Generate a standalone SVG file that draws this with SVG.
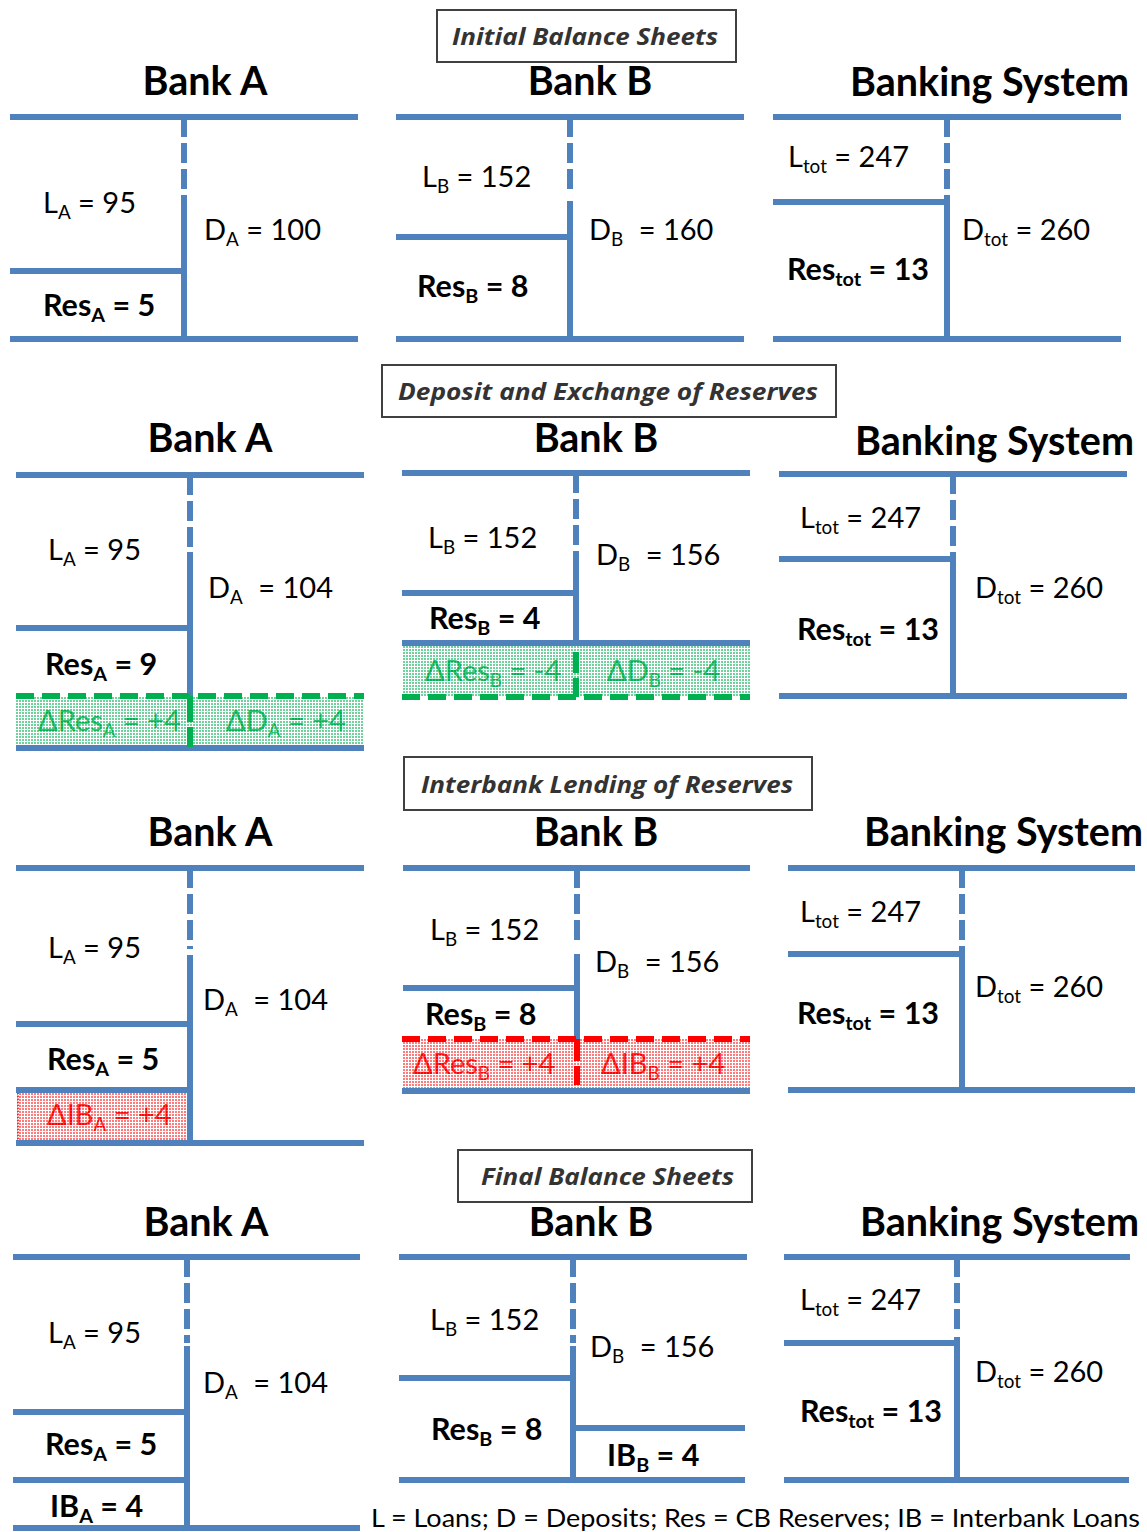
<svg xmlns="http://www.w3.org/2000/svg" width="1147" height="1532" viewBox="0 0 1147 1532">
<style>
.ln{stroke:#4F81BD;stroke-width:6;fill:none}
.dsh{stroke-dasharray:20 6}
.t{font-family:Lato,"Liberation Sans",sans-serif;font-size:29px;fill:#000}
.b{font-weight:bold;font-size:30.5px}
.h{font-family:Lato,"Liberation Sans",sans-serif;font-size:39.5px;font-weight:bold;fill:#000}
.ttl{font-family:"Open Sans","Liberation Sans",sans-serif;font-size:24px;font-weight:bold;font-style:italic;fill:#333}
.box{fill:#fff;stroke:#404040;stroke-width:2}
.sub{font-size:65%}
.g{fill:#00B050}
.r{fill:#FF0000}
.gl{stroke:#00B050;stroke-width:6;fill:none}
.rl{stroke:#FF0000;stroke-width:6;fill:none}
.gd{stroke-dasharray:18 8}
.ov{opacity:0.2}
</style>
<defs>
<pattern id="wgrid" width="3" height="3" patternUnits="userSpaceOnUse">
<rect x="0" y="0" width="3" height="1" fill="#fff"/>
<rect x="0" y="0" width="1" height="3" fill="#fff"/>
</pattern>
</defs>

<!-- Section 1 -->
<g id="title1"><rect class="box" x="437" y="10" width="299" height="52"/><text class="ttl" x="452" y="45" textLength="266" lengthAdjust="spacingAndGlyphs">Initial Balance Sheets</text></g>

<g id="s1-bankA">
<text class="h" x="205" y="95" text-anchor="middle">Bank A</text>
<path class="ln" d="M10 117H358M10 271H184M10 339H358M184 195V339"/>
<path class="ln dsh" d="M184 117V189"/>
<text class="t" x="43" y="213">L<tspan class="sub" dy="6">A</tspan><tspan dy="-6"> = 95</tspan></text>
<text class="t" x="204" y="240">D<tspan class="sub" dy="6">A</tspan><tspan dy="-6"> = 100</tspan></text>
<text class="t b" x="43" y="316">Res<tspan class="sub" dy="6">A</tspan><tspan dy="-6"> = 5</tspan></text>
</g>

<g id="s1-bankB">
<text class="h" x="590" y="95" text-anchor="middle">Bank B</text>
<path class="ln" d="M396 117H744M396 237H570M396 339H744M570 201V339"/>
<path class="ln dsh" d="M570 117V189"/>
<text class="t" x="422" y="187">L<tspan class="sub" dy="6">B</tspan><tspan dy="-6"> = 152</tspan></text>
<text class="t" x="589" y="240">D<tspan class="sub" dy="6">B</tspan><tspan dy="-6" dx="8"> = 160</tspan></text>
<text class="t b" x="417" y="297">Res<tspan class="sub" dy="6">B</tspan><tspan dy="-6"> = 8</tspan></text>
</g>

<g id="s1-system">
<text class="h" x="850" y="96">Banking System</text>
<path class="ln" d="M773 117H1121M773 202H947M773 339H1121M947 195V339"/>
<path class="ln dsh" d="M947 117V189"/>
<text class="t" x="788" y="167">L<tspan class="sub" dy="6">tot</tspan><tspan dy="-6"> = 247</tspan></text>
<text class="t" x="962" y="240">D<tspan class="sub" dy="6">tot</tspan><tspan dy="-6"> = 260</tspan></text>
<text class="t b" x="787" y="280">Res<tspan class="sub" dy="6">tot</tspan><tspan dy="-6"> = 13</tspan></text>
</g>

<!-- Section 2 -->
<g id="title2"><rect class="box" x="382" y="365" width="454" height="52"/><text class="ttl" x="398" y="400" textLength="420" lengthAdjust="spacingAndGlyphs">Deposit and Exchange of Reserves</text></g>

<g id="s2-bankA">
<text class="h" x="210" y="452" text-anchor="middle">Bank A</text>
<rect x="16" y="696" width="348" height="52" fill="#6fd19c"/>
<rect x="16" y="696" width="348" height="52" fill="url(#wgrid)"/>
<text class="t g" x="38" y="731">ΔRes<tspan class="sub" dy="6">A</tspan><tspan dy="-6"> = +4</tspan></text>
<text class="t g" x="226" y="731">ΔD<tspan class="sub" dy="6">A</tspan><tspan dy="-6"> = +4</tspan></text>
<rect class="ov" x="16" y="696" width="348" height="52" fill="url(#wgrid)"/>
<path class="ln" d="M16 475H364M16 628H190M16 748H364M190 552V696"/>
<path class="ln dsh" d="M190 475V547"/>
<path class="gl gd" d="M16 696H364"/>
<path class="gl" d="M190 696V722M190 727V747"/>
<text class="t" x="48" y="560">L<tspan class="sub" dy="6">A</tspan><tspan dy="-6"> = 95</tspan></text>
<text class="t" x="208" y="598">D<tspan class="sub" dy="6">A</tspan><tspan dy="-6" dx="8"> = 104</tspan></text>
<text class="t b" x="45" y="675">Res<tspan class="sub" dy="6">A</tspan><tspan dy="-6"> = 9</tspan></text>
</g>

<g id="s2-bankB">
<text class="h" x="596" y="452" text-anchor="middle">Bank B</text>
<rect x="402" y="643" width="348" height="54" fill="#6fd19c"/>
<rect x="402" y="643" width="348" height="54" fill="url(#wgrid)"/>
<text class="t g" x="425" y="681">ΔRes<tspan class="sub" dy="6">B</tspan><tspan dy="-6"> = -4</tspan></text>
<text class="t g" x="607" y="681">ΔD<tspan class="sub" dy="6">B</tspan><tspan dy="-6"> = -4</tspan></text>
<rect class="ov" x="402" y="643" width="348" height="54" fill="url(#wgrid)"/>
<path class="ln" d="M402 473H750M402 593H576M402 643H750M576 551V643"/>
<path class="ln dsh" d="M576 473V545"/>
<path class="gl gd" d="M402 697H750"/>
<path class="gl" d="M576 652V673M576 678V697"/>
<text class="t" x="428" y="548">L<tspan class="sub" dy="6">B</tspan><tspan dy="-6"> = 152</tspan></text>
<text class="t" x="596" y="565">D<tspan class="sub" dy="6">B</tspan><tspan dy="-6" dx="8"> = 156</tspan></text>
<text class="t b" x="429" y="629">Res<tspan class="sub" dy="6">B</tspan><tspan dy="-6"> = 4</tspan></text>
</g>

<g id="s2-system">
<text class="h" x="855" y="455">Banking System</text>
<path class="ln" d="M779 474H1127M779 559H953M779 696H1127M953 552V696"/>
<path class="ln dsh" d="M953 474V546"/>
<text class="t" x="800" y="528">L<tspan class="sub" dy="6">tot</tspan><tspan dy="-6"> = 247</tspan></text>
<text class="t" x="975" y="598">D<tspan class="sub" dy="6">tot</tspan><tspan dy="-6"> = 260</tspan></text>
<text class="t b" x="797" y="640">Res<tspan class="sub" dy="6">tot</tspan><tspan dy="-6"> = 13</tspan></text>
</g>

<!-- Section 3 -->
<g id="title3"><rect class="box" x="404" y="757" width="408" height="53"/><text class="ttl" x="421" y="793" textLength="372" lengthAdjust="spacingAndGlyphs">Interbank Lending of Reserves</text></g>

<g id="s3-bankA">
<text class="h" x="210" y="846" text-anchor="middle">Bank A</text>
<rect x="17" y="1090" width="173" height="53" fill="#ff7a7a"/>
<rect x="17" y="1090" width="173" height="53" fill="url(#wgrid)"/>
<text class="t r" x="47" y="1125">ΔIB<tspan class="sub" dy="6">A</tspan><tspan dy="-6"> = +4</tspan></text>
<rect class="ov" x="17" y="1090" width="173" height="53" fill="url(#wgrid)"/>
<rect x="18" y="1091" width="171" height="51" fill="none" stroke="#FF0000" stroke-width="1.5" stroke-dasharray="1.5 1.5"/>
<path class="ln" d="M16 868H364M16 1024H190M16 1090H190M16 1143H364M190 955V1143"/>
<path class="ln dsh" d="M190 868V949"/>
<text class="t" x="48" y="958">L<tspan class="sub" dy="6">A</tspan><tspan dy="-6"> = 95</tspan></text>
<text class="t" x="203" y="1010">D<tspan class="sub" dy="6">A</tspan><tspan dy="-6" dx="8"> = 104</tspan></text>
<text class="t b" x="47" y="1070">Res<tspan class="sub" dy="6">A</tspan><tspan dy="-6"> = 5</tspan></text>
</g>

<g id="s3-bankB">
<text class="h" x="596" y="846" text-anchor="middle">Bank B</text>
<rect x="402" y="1039" width="348" height="52" fill="#ff7a7a"/>
<rect x="402" y="1039" width="348" height="52" fill="url(#wgrid)"/>
<text class="t r" x="413" y="1074">ΔRes<tspan class="sub" dy="6">B</tspan><tspan dy="-6"> = +4</tspan></text>
<text class="t r" x="601" y="1074">ΔIB<tspan class="sub" dy="6">B</tspan><tspan dy="-6"> = +4</tspan></text>
<rect class="ov" x="402" y="1039" width="348" height="52" fill="url(#wgrid)"/>
<path class="ln" d="M403 868H750M403 988H577M402 1091H750M577 954V1039"/>
<path class="ln dsh" d="M577 868V940"/>
<path class="rl gd" d="M402 1039H750"/>
<path class="rl" d="M577 1039V1061M577 1066V1085"/>
<text class="t" x="430" y="940">L<tspan class="sub" dy="6">B</tspan><tspan dy="-6"> = 152</tspan></text>
<text class="t" x="595" y="972">D<tspan class="sub" dy="6">B</tspan><tspan dy="-6" dx="8"> = 156</tspan></text>
<text class="t b" x="425" y="1025">Res<tspan class="sub" dy="6">B</tspan><tspan dy="-6"> = 8</tspan></text>
</g>

<g id="s3-system">
<text class="h" x="864" y="846">Banking System</text>
<path class="ln" d="M788 868H1135M788 954H962M788 1090H1135M962 946V1090"/>
<path class="ln dsh" d="M962 868V940"/>
<text class="t" x="800" y="922">L<tspan class="sub" dy="6">tot</tspan><tspan dy="-6"> = 247</tspan></text>
<text class="t" x="975" y="997">D<tspan class="sub" dy="6">tot</tspan><tspan dy="-6"> = 260</tspan></text>
<text class="t b" x="797" y="1024">Res<tspan class="sub" dy="6">tot</tspan><tspan dy="-6"> = 13</tspan></text>
</g>

<!-- Section 4 -->
<g id="title4"><rect class="box" x="458" y="1150" width="294" height="52"/><text class="ttl" x="481" y="1185" textLength="253" lengthAdjust="spacingAndGlyphs">Final Balance Sheets</text></g>

<g id="s4-bankA">
<text class="h" x="206" y="1236" text-anchor="middle">Bank A</text>
<path class="ln" d="M13 1257H360M13 1412H187M13 1480H187M13 1528H360M187 1346V1528"/>
<path class="ln dsh" d="M187 1257V1343"/>
<text class="t" x="48" y="1343">L<tspan class="sub" dy="6">A</tspan><tspan dy="-6"> = 95</tspan></text>
<text class="t" x="203" y="1393">D<tspan class="sub" dy="6">A</tspan><tspan dy="-6" dx="8"> = 104</tspan></text>
<text class="t b" x="45" y="1455">Res<tspan class="sub" dy="6">A</tspan><tspan dy="-6"> = 5</tspan></text>
<text class="t b" x="50" y="1517">IB<tspan class="sub" dy="6">A</tspan><tspan dy="-6"> = 4</tspan></text>
</g>

<g id="s4-bankB">
<text class="h" x="591" y="1236" text-anchor="middle">Bank B</text>
<path class="ln" d="M399 1257H747M399 1378H573M573 1428H745M399 1480H745M573 1346V1480"/>
<path class="ln dsh" d="M573 1257V1343"/>
<text class="t" x="430" y="1330">L<tspan class="sub" dy="6">B</tspan><tspan dy="-6"> = 152</tspan></text>
<text class="t" x="590" y="1357">D<tspan class="sub" dy="6">B</tspan><tspan dy="-6" dx="8"> = 156</tspan></text>
<text class="t b" x="431" y="1440">Res<tspan class="sub" dy="6">B</tspan><tspan dy="-6"> = 8</tspan></text>
<text class="t b" x="607" y="1466">IB<tspan class="sub" dy="6">B</tspan><tspan dy="-6"> = 4</tspan></text>
</g>

<g id="s4-system">
<text class="h" x="860" y="1236">Banking System</text>
<path class="ln" d="M784 1257H1130M784 1343H957M784 1480H1129M957 1337V1480"/>
<path class="ln dsh" d="M957 1257V1331"/>
<text class="t" x="800" y="1310">L<tspan class="sub" dy="6">tot</tspan><tspan dy="-6"> = 247</tspan></text>
<text class="t" x="975" y="1382">D<tspan class="sub" dy="6">tot</tspan><tspan dy="-6"> = 260</tspan></text>
<text class="t b" x="800" y="1422">Res<tspan class="sub" dy="6">tot</tspan><tspan dy="-6"> = 13</tspan></text>
</g>

<g id="legend">
<text class="t" x="371" y="1527" style="font-size:25px" textLength="769" lengthAdjust="spacingAndGlyphs">L = Loans; D = Deposits; Res = CB Reserves; IB = Interbank Loans</text>
</g>
</svg>
